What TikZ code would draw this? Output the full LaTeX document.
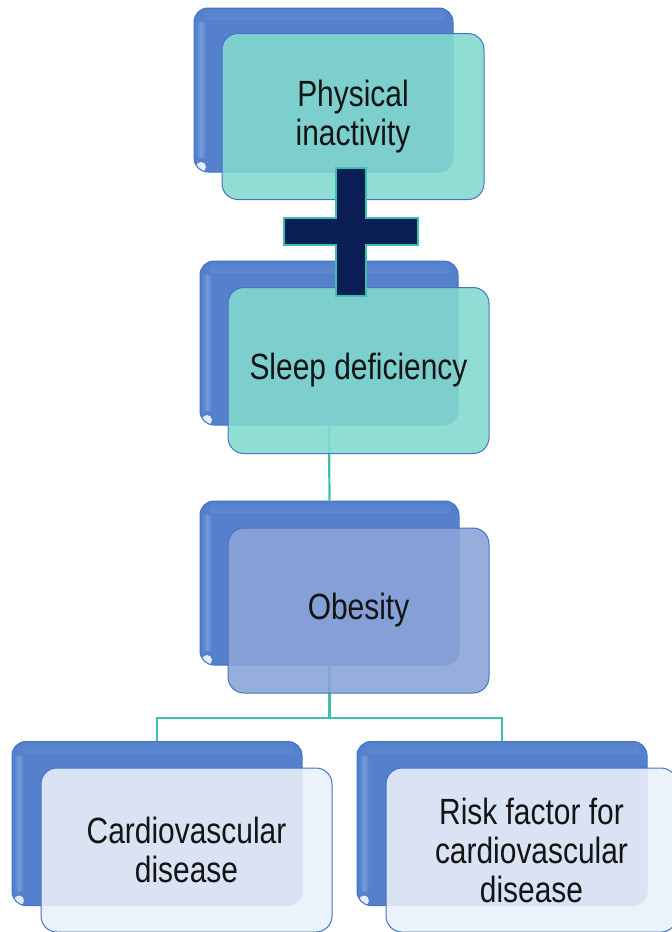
\documentclass[tikz,border=0pt]{standalone}
\usepackage{fontspec}
\setmainfont{Liberation Sans}[FakeStretch=0.82]
\definecolor{backblue}{HTML}{5580CC}
\definecolor{edgeblue}{HTML}{4472C4}
\definecolor{hilite}{HTML}{A9C5F2}
\definecolor{tealfront}{HTML}{82D9CF}
\definecolor{bluefront}{HTML}{8AA4D9}
\definecolor{palefront}{HTML}{EAF0F8}
\definecolor{conncol}{HTML}{3DBFAE}
\definecolor{navy}{HTML}{0B1E55}
\begin{document}
\begin{tikzpicture}[x=1pt,y=-1pt,
  backbox/.style={draw=edgeblue, line width=1pt, fill=backblue,
    rounded corners=14pt, minimum width=#1, minimum height=164pt, inner sep=0pt,
    path picture={
      \shade[top color=backblue, bottom color=backblue, middle color=hilite, opacity=0.85, rounded corners=3pt]
        ([xshift=10pt,yshift=-2pt]path picture bounding box.north west) rectangle
        ([xshift=-8pt,yshift=-12pt]path picture bounding box.north east);
      \shade[left color=backblue, right color=backblue, middle color=hilite, opacity=0.4, rounded corners=3pt]
        ([xshift=2pt,yshift=-14pt]path picture bounding box.north west) rectangle
        ([xshift=12pt,yshift=14pt]path picture bounding box.south west);
      \fill[white, opacity=0.85] ([xshift=7pt,yshift=5pt]path picture bounding box.south west) circle (5pt);
    }},
  frontbox/.style 2 args={fill=#2, fill opacity=0.89, text opacity=1,
    draw=edgeblue, line width=1pt, rounded corners=16pt,
    minimum width=#1, minimum height=166pt, inner sep=0pt, align=center,
    font=\fontsize{36.5}{39}\selectfont, text=black!92},
  conn/.style={draw=conncol, line width=2.2pt},
  plusstyle/.style={fill=navy, draw=conncol, line width=1.5pt, line join=miter}
]
\useasboundingbox (0,0) rectangle (672,932);
\clip (0,0) rectangle (672,932);

% back boxes
\node[backbox=259pt] (b1) at (323.5,90) {};
\node[backbox=258pt] (b2) at (329,343) {};
\node[backbox=259pt] (b3) at (329.5,583) {};
\node[backbox=290pt] (b4) at (157,823.5) {};
\node[backbox=290pt] (b5) at (502,823.5) {};

% connectors
\coordinate (split) at (329.5,718);
\draw[conn] (b2.south) -- (b3.north);
\draw[conn] (b3.south) -- (split);
\draw[conn] (b4.north) |- (split) -| (b5.north);

% front boxes
\node[frontbox={262pt}{tealfront}] (f1) at (353,116.5) {Physical\\inactivity};
\node[frontbox={261pt}{tealfront}] (f2) at (358.5,370.5) {Sleep deficiency};
\node[frontbox={261pt}{bluefront}, minimum height=165pt] (f3) at (358.5,610.5) {Obesity};
\node[frontbox={291pt}{palefront}, minimum height=164pt] (f4) at (186.5,850) {Cardiovascular\\disease};
\node[frontbox={291pt}{palefront}, minimum height=164pt] (f5) at (531.5,850) {Risk factor for\\cardiovascular\\disease};

% plus sign
\draw[plusstyle] (336,168) -- (366,168) -- (366,218) -- (418,218) -- (418,245)
  -- (366,245) -- (366,296) -- (336,296) -- (336,245) -- (284,245)
  -- (284,218) -- (336,218) -- cycle;
\end{tikzpicture}
\end{document}
